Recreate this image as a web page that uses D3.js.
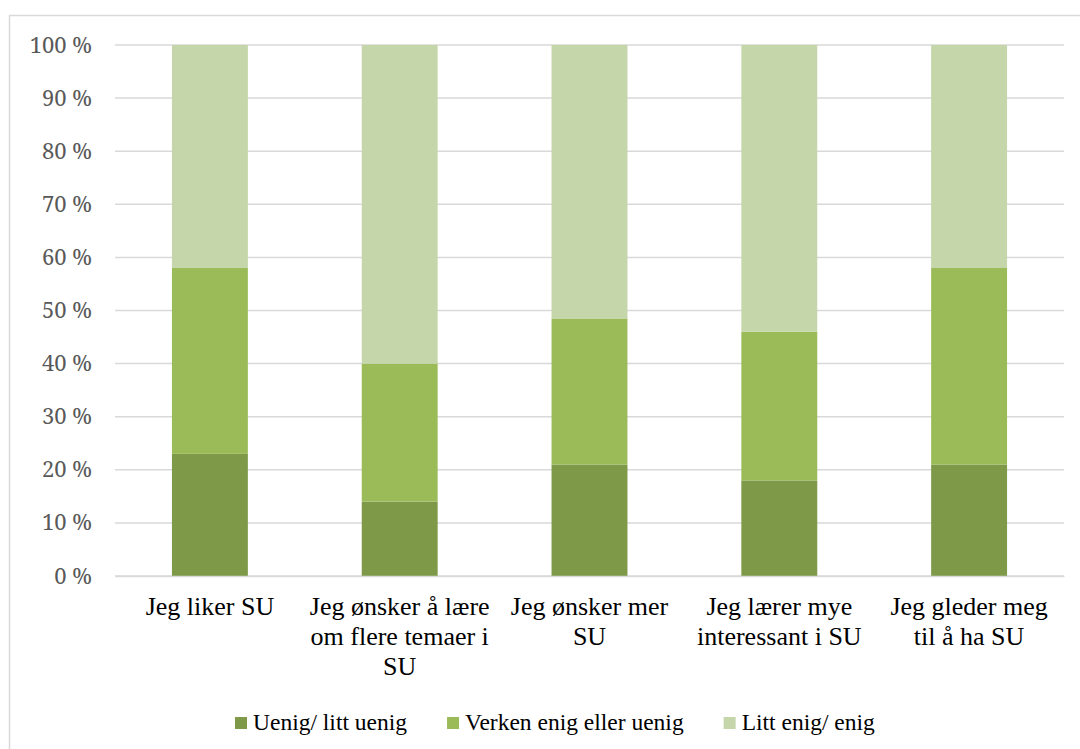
<!DOCTYPE html>
<html><head><meta charset="utf-8">
<script src="https://cdn.jsdelivr.net/npm/d3@7"></script>
<style>body{margin:0;background:#fff}</style>
</head><body>
<svg id="c" width="1080" height="749"></svg>
<script>
const categories = ["Jeg liker SU","Jeg ønsker å lære om flere temaer i SU","Jeg ønsker mer SU","Jeg lærer mye interessant i SU","Jeg gleder meg til å ha SU"];
const categoryLines = [["Jeg liker SU"],["Jeg ønsker å lære","om flere temaer i","SU"],["Jeg ønsker mer","SU"],["Jeg lærer mye","interessant i SU"],["Jeg gleder meg","til å ha SU"]];
const seriesNames = ["Uenig/ litt uenig","Verken enig eller uenig","Litt enig/ enig"];
const uenig = [23,14,21,18,21];
const verken = [35,26,27.5,28,37];
const enig = [42,60,51.5,54,42];
const yTicks = [0,10,20,30,40,50,60,70,80,90,100];
const colors = ["#7e9a48","#9bbb59","#c5d6aa"];

const svg = d3.select("#c");
svg.append("rect").attr("x",9.5).attr("y",15.5).attr("width",1100).attr("height",800)
  .attr("fill","none").attr("stroke","#d9d9d9").attr("stroke-width",1.5);

const x = d3.scaleBand().domain(categories).range([115,1064]).paddingInner(0.6).paddingOuter(0.3);
const y = d3.scaleLinear().domain([0,100]).range([576,45]);

svg.append("g").selectAll("line").data(yTicks).join("line")
  .attr("x1",115).attr("x2",1064).attr("y1",d=>y(d)).attr("y2",d=>y(d))
  .attr("stroke","#d9d9d9").attr("stroke-width",1.5);

const yAxis = d3.axisLeft(y).tickValues(yTicks).tickSize(0).tickPadding(0).tickFormat(d=>d+" %");
const ya = svg.append("g").attr("transform","translate(92,0)").call(yAxis)
  .attr("font-family","Noto Serif, DejaVu Serif, serif").attr("font-size",22);
ya.select(".domain").remove();
ya.selectAll("text").attr("fill","#595959");

const rows = categories.map((c,i)=>({cat:c, s0:uenig[i], s1:verken[i], s2:enig[i]}));
const stack = d3.stack().keys(["s0","s1","s2"])(rows);
svg.append("g").selectAll("g").data(stack).join("g").attr("fill",(d,i)=>colors[i])
  .selectAll("rect").data(d=>d).join("rect")
  .attr("x",d=>x(d.data.cat)).attr("width",x.bandwidth())
  .attr("y",d=>y(d[1])).attr("height",d=>y(d[0])-y(d[1]));

const xa = svg.append("g").attr("transform","translate(0,576)").call(d3.axisBottom(x).tickSize(0).tickFormat(""));
xa.select(".domain").attr("stroke","#d9d9d9").attr("stroke-width",1.5);

categories.forEach((c,i)=>{
  categoryLines[i].forEach((ln,j)=>{
    svg.append("text").attr("x",x(c)+x.bandwidth()/2).attr("y",615+j*30)
      .attr("text-anchor","middle").attr("font-size",26).style("font-family","Liberation Serif")
      .attr("fill","#000").text(ln);
  });
});

let lx = 235;
seriesNames.forEach((n,i)=>{
  svg.append("rect").attr("x",lx).attr("y",717).attr("width",12).attr("height",12).attr("fill",colors[i]);
  const t = svg.append("text").attr("x",lx+18).attr("y",730).attr("font-size",23.5).style("font-family","Liberation Serif")
    .attr("fill","#000").text(n);
  lx += 18 + t.node().getComputedTextLength() + 40;
});
</script>
</body></html>
